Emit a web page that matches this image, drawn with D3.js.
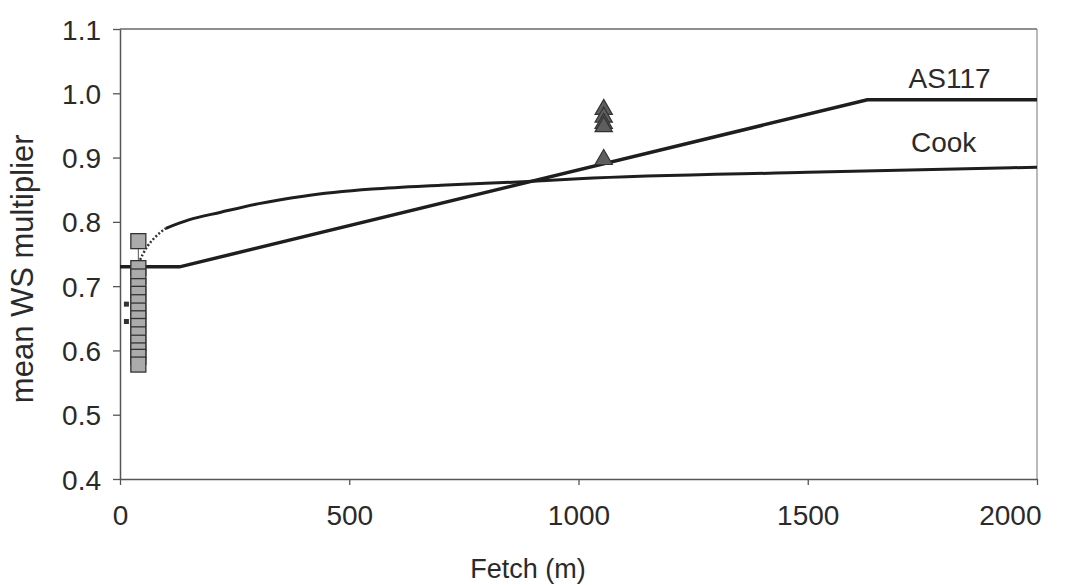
<!DOCTYPE html>
<html>
<head>
<meta charset="utf-8">
<script src="https://cdn.jsdelivr.net/npm/d3@7"></script>
<style>
  body { margin: 0; background: #fff; }
  text { font-family: "Liberation Sans", Arial, sans-serif; fill: #2a2a2a; }
</style>
</head>
<body>
<svg id="chart" width="1073" height="585"></svg>
<script>
// values
var xTicks = [0, 500, 1000, 1500, 2000];
var yTicks = [0.4, 0.5, 0.6, 0.7, 0.8, 0.9, 1.0, 1.1];

var as117Fetch = [0, 130, 1630, 2000];
var as117WS = [0.73, 0.73, 0.99, 0.99];

var cookFetch = [40, 50, 60, 75, 100, 150, 220, 300, 400, 550, 700, 900, 1000, 1500, 2000];
var cookWS = [0.735, 0.75, 0.762, 0.775, 0.79, 0.803, 0.815, 0.828, 0.84, 0.851, 0.857, 0.863, 0.867, 0.877, 0.885];
var cookDottedUntil = 100; // fetch below this drawn dotted

var squareFetch = 40;
var squareWS = [0.77, 0.728, 0.715, 0.70, 0.688, 0.675, 0.662, 0.65, 0.638, 0.625, 0.612, 0.60, 0.59, 0.578];

var triFetch = 1055;
var triWS = [0.975, 0.963, 0.953, 0.948, 0.897];

var smallFetch = 14;
var smallWS = [0.672, 0.645];

var lineLabels = ["AS117", "Cook"];

// layout
var margin = {top: 29, right: 36, bottom: 106, left: 120},
    width = 1073 - margin.left - margin.right,
    height = 585 - margin.top - margin.bottom;

var svg = d3.select("#chart");
var g = svg.append("g")
    .attr("transform", "translate(" + margin.left + "," + margin.top + ")");

var x = d3.scaleLinear().domain([0, 2000]).range([0, width]);
var y = d3.scaleLinear().domain([0.4, 1.1]).range([height, 0]);

// frame (top and right)
g.append("line")
    .attr("x1", 0).attr("x2", width).attr("y1", 0).attr("y2", 0)
    .attr("stroke", "#6a6a6a").attr("stroke-width", 1.5);
g.append("line")
    .attr("x1", width).attr("x2", width).attr("y1", 0).attr("y2", height)
    .attr("stroke", "#8a8a8a").attr("stroke-width", 1.2);

// axes
var xAxis = g.append("g")
    .attr("transform", "translate(0," + height + ")")
    .call(d3.axisBottom(x).tickValues(xTicks).tickSizeInner(6).tickSizeOuter(0).tickPadding(20).tickFormat(d3.format("d")));
var yAxis = g.append("g")
    .call(d3.axisLeft(y).tickValues(yTicks).tickSizeInner(7).tickSizeOuter(0).tickPadding(12).tickFormat(d3.format(".1f")));

[xAxis, yAxis].forEach(function(a) {
    a.select(".domain").attr("stroke", "#555").attr("stroke-width", 1.5);
    a.selectAll(".tick line").attr("stroke", "#555").attr("stroke-width", 1.3);
    a.selectAll("text").style("font-size", "28px").attr("fill", "#2a2a2a");
});
yAxis.selectAll("text").attr("dy", "0.36em");
// last x label is pulled inside the chart like Excel does
xAxis.selectAll(".tick text")
    .filter(function(d) { return d === 2000; })
    .attr("text-anchor", "end")
    .attr("x", 4);

// axis titles
svg.append("text")
    .attr("x", margin.left + x(890))
    .attr("y", 578)
    .attr("text-anchor", "middle")
    .style("font-size", "27px")
    .text("Fetch (m)");
svg.append("text")
    .attr("transform", "translate(33," + (margin.top + y(0.727)) + ") rotate(-90)")
    .attr("text-anchor", "middle")
    .style("font-size", "31px")
    .text("mean WS multiplier");

var line = d3.line()
    .x(function(d) { return x(d[0]); })
    .y(function(d) { return y(d[1]); });

// AS117
var as117 = as117Fetch.map(function(f, i) { return [f, as117WS[i]]; });
g.append("path")
    .datum(as117)
    .attr("d", line)
    .attr("fill", "none")
    .attr("stroke", "#1e1e1e")
    .attr("stroke-width", 3.5);

// Cook
var cook = cookFetch.map(function(f, i) { return [f, cookWS[i]]; });
var lineCurve = d3.line()
    .x(function(d) { return x(d[0]); })
    .y(function(d) { return y(d[1]); })
    .curve(d3.curveMonotoneX);
var cookDot = cook.filter(function(d) { return d[0] <= cookDottedUntil; });
var cookSolid = cook.filter(function(d) { return d[0] >= cookDottedUntil; });
g.append("path")
    .datum(cookDot)
    .attr("d", lineCurve)
    .attr("fill", "none")
    .attr("stroke", "#333")
    .attr("stroke-width", 2.5)
    .attr("stroke-dasharray", "2,2");
g.append("path")
    .datum(cookSolid)
    .attr("d", lineCurve)
    .attr("fill", "none")
    .attr("stroke", "#1e1e1e")
    .attr("stroke-width", 3);

// whisker from top square down to the line
g.append("line")
    .attr("x1", x(squareFetch)).attr("x2", x(squareFetch))
    .attr("y1", y(squareWS[0])).attr("y2", y(as117WS[0]))
    .attr("stroke", "#555").attr("stroke-width", 1);

// squares
var sq = 15;
g.selectAll("rect.sq")
    .data(squareWS)
    .enter()
    .append("rect")
    .attr("class", "sq")
    .attr("x", x(squareFetch) - sq / 2)
    .attr("y", function(d) { return y(d) - sq / 2; })
    .attr("width", sq)
    .attr("height", sq)
    .attr("fill", "#ababab")
    .attr("stroke", "#333")
    .attr("stroke-width", 1.3);

// small dark markers
g.selectAll("rect.small")
    .data(smallWS)
    .enter()
    .append("rect")
    .attr("class", "small")
    .attr("x", x(smallFetch) - 2.5)
    .attr("y", function(d) { return y(d) - 2.5; })
    .attr("width", 5)
    .attr("height", 5)
    .attr("fill", "#333");

// triangles
var tri = d3.symbol().type(d3.symbolTriangle).size(130);
g.selectAll("path.tri")
    .data(triWS)
    .enter()
    .append("path")
    .attr("class", "tri")
    .attr("d", tri)
    .attr("transform", function(d) { return "translate(" + x(triFetch) + "," + y(d) + ")"; })
    .attr("fill", "#5e5e5e")
    .attr("stroke", "#333")
    .attr("stroke-width", 1.2);

// line labels
g.append("text")
    .attr("x", x(1720))
    .attr("y", y(1.008))
    .style("font-size", "28px")
    .text(lineLabels[0]);
g.append("text")
    .attr("x", x(1725))
    .attr("y", y(0.908))
    .style("font-size", "28px")
    .text(lineLabels[1]);
</script>
</body>
</html>
